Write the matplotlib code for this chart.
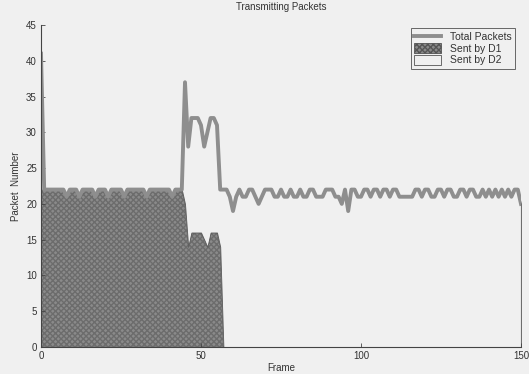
import numpy as np
import matplotlib
matplotlib.use("Agg")
import matplotlib.pyplot as plt
from matplotlib.lines import Line2D
from matplotlib.patches import Patch

plt.rcParams['font.family'] = ['Liberation Sans', 'DejaVu Sans']

# frame numbers 0..150
frames = list(range(151))

# packets sent by D1
sent_d1 = [22, 22, 22, 22, 22, 22, 22, 22, 21, 22,
           22, 22, 21, 22, 22, 22, 22, 21, 22, 22,
           22, 21, 22, 22, 22, 22, 21, 22, 22, 22,
           22, 22, 22, 21, 22, 22, 22, 22, 22, 22,
           22, 21, 22, 22, 22, 20, 14, 16, 16, 16,
           16, 15, 14, 16, 16, 16, 14] + [0] * 94

# total packets (the thick line)
total = [41, 22, 22, 22, 22, 22, 22, 22, 21, 22,
         22, 22, 21, 22, 22, 22, 22, 21, 22, 22,
         22, 21, 22, 22, 22, 22, 21, 22, 22, 22,
         22, 22, 22, 21, 22, 22, 22, 22, 22, 22,
         22, 21, 22, 22, 22, 37, 28, 32, 32, 32,
         31, 28, 30, 32, 32, 31, 22, 22, 22, 21,
         19, 21, 22, 21, 21, 22, 22, 21, 20, 21,
         22, 22, 22, 21, 21, 22, 21, 21, 22, 21,
         21, 22, 21, 21, 22, 22, 21, 21, 21, 22,
         22, 22, 21, 21, 20, 22, 19, 22, 22, 21,
         21, 22, 22, 21, 22, 22, 21, 22, 22, 21,
         22, 22, 21, 21, 21, 21, 21, 22, 22, 21,
         22, 22, 21, 21, 22, 22, 21, 22, 22, 21,
         21, 22, 22, 21, 22, 22, 21, 21, 22, 21,
         22, 21, 22, 21, 22, 21, 22, 21, 22, 22,
         20]

sent_d2 = [t - d for t, d in zip(total, sent_d1)]

bg = "#f0f0f0"
txt = "#333333"
d1_color = "#8a8a8a"
line_color = "#8e8e8e"

fig = plt.figure(figsize=(5.29, 3.74), dpi=100, facecolor=bg)
ax = fig.add_axes([41 / 529, 1 - 347 / 374, 480 / 529, 322 / 374])
ax.set_facecolor(bg)

x = np.array(frames)
d1 = np.array(sent_d1)
d2 = np.array(sent_d2)

ax.fill_between(x, 0, d1, facecolor=d1_color, edgecolor="#6c6c6c",
                hatch="xxxxxx", linewidth=0.6)
ax.fill_between(x, d1, d1 + d2, facecolor=bg, edgecolor="#555555", linewidth=0.6)
ax.plot([150, 150], [0, total[-1]], color="#555555", lw=0.8)
ax.plot(x, total, color=line_color, lw=2.8, solid_joinstyle="round")

ax.set_xlim(0, 150)
ax.set_ylim(0, 45)
ax.set_xticks([0, 50, 100, 150])
ax.set_yticks(range(0, 46, 5))
ax.spines["top"].set_visible(False)
ax.spines["right"].set_visible(False)
for s in ("left", "bottom"):
    ax.spines[s].set_color("#444444")
    ax.spines[s].set_linewidth(0.8)
ax.tick_params(direction="in", length=3, width=0.6, colors="#444444",
               labelsize=7, labelcolor=txt, pad=3)

ax.set_title("Transmitting Packets", fontsize=7, color=txt, pad=11)
ax.set_xlabel("Frame", fontsize=7, color=txt, labelpad=1)
ax.set_ylabel("Packet  Number", fontsize=7, color=txt, labelpad=4)

handles = [
    Line2D([], [], color=line_color, lw=2.8),
    Patch(facecolor=d1_color, edgecolor="#555555", hatch="xxxxxx", linewidth=0.6),
    Patch(facecolor=bg, edgecolor="#555555", linewidth=0.6),
]
labels = ["Total Packets", "Sent by D1", "Sent by D2"]
leg = ax.legend(handles, labels, loc="upper right",
                bbox_to_anchor=(515 / 529, 1 - 28 / 374),
                bbox_transform=fig.transFigure, borderaxespad=0,
                fontsize=7.5, frameon=True, fancybox=False,
                handlelength=2.6, handleheight=1.0, labelspacing=0.15,
                borderpad=0.35, handletextpad=0.8)
leg.get_frame().set_edgecolor("#444444")
leg.get_frame().set_facecolor(bg)
leg.get_frame().set_linewidth(0.7)
for t in leg.get_texts():
    t.set_color(txt)

fig.savefig("out.png", dpi=100, facecolor=bg)
